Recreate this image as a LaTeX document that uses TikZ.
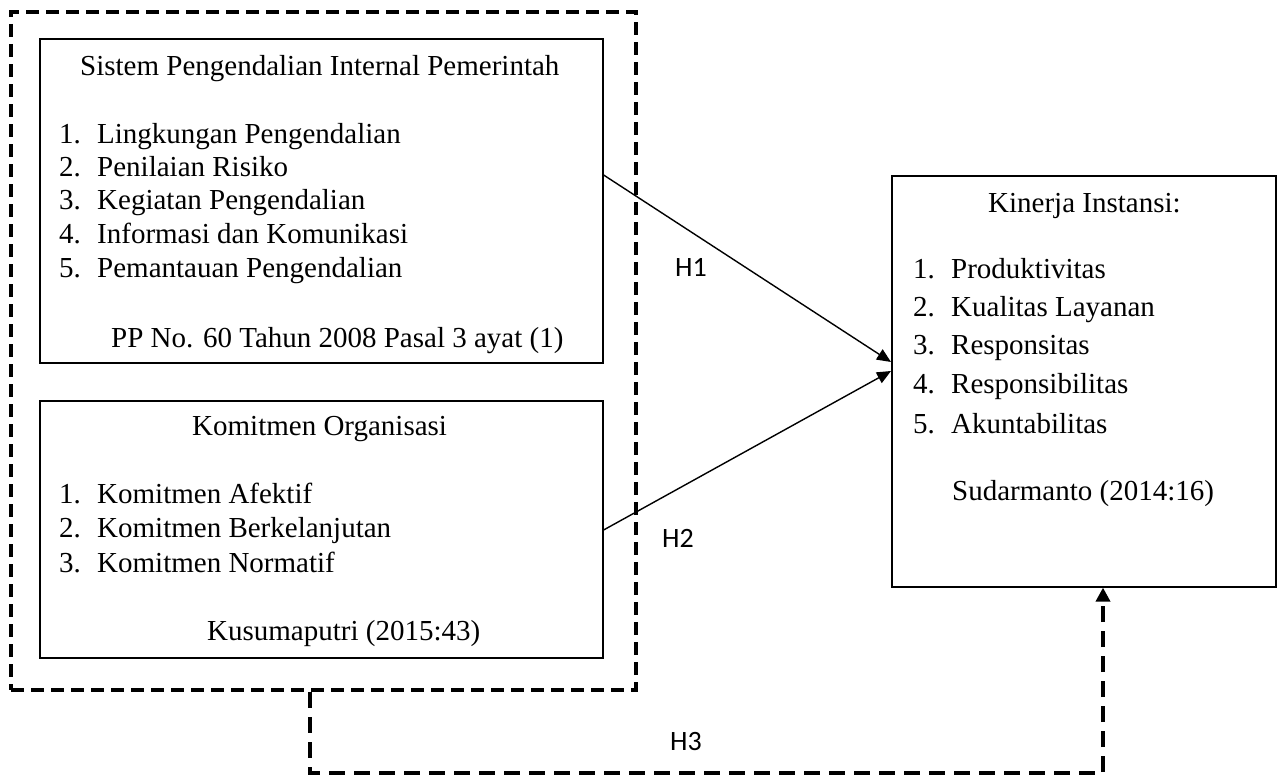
\documentclass[tikz,border=0pt]{standalone}
\usepackage{fontspec}
\setmainfont{Liberation Serif}
\newfontfamily\hfont{Carlito}
\usetikzlibrary{arrows.meta}
\begin{document}
\begin{tikzpicture}[x=1pt,y=-1pt,
 box/.style={draw, line width=1.6pt, inner sep=0pt, anchor=north west},
 txt/.style={anchor=base west, inner sep=0pt, font=\fontsize{29}{33}\selectfont},
 hl/.style={anchor=base west, inner sep=0pt, font=\hfont\fontsize{28}{32}\selectfont},
 outer/.style={draw, line width=4pt, dash pattern=on 13pt off 7pt, inner sep=0pt, anchor=north west},
 conn/.style={line width=1.4pt, -{Triangle[length=14pt,width=12pt]}},
 dconn/.style={line width=4pt, dash pattern=on 16pt off 9pt, -{Triangle[length=14pt,width=14pt]}}]
\useasboundingbox (0,0) rectangle (1277,776);
% boxes
\node[outer, minimum width=625pt, minimum height=678pt] (grp) at (9,10) {};
\node[box, minimum width=563pt, minimum height=324pt] (spip) at (39,38) {};
\node[box, minimum width=563pt, minimum height=257pt] (komit) at (39,400) {};
\node[box, minimum width=384pt, minimum height=411pt] (kin) at (891,175) {};
% texts box 1
\node[txt] (t1) at (80,75) {Sistem Pengendalian Internal Pemerintah};
\node[txt] (n11) at (59,143) {1.};
\node[txt] (i11) at (97,143) {Lingkungan Pengendalian};
\node[txt] (n12) at (59,176) {2.};
\node[txt] (i12) at (97,176) {Penilaian Risiko};
\node[txt] (n13) at (59,209) {3.};
\node[txt] (i13) at (97,209) {Kegiatan Pengendalian};
\node[txt] (n14) at (59,243) {4.};
\node[txt] (i14) at (97,243) {Informasi dan Komunikasi};
\node[txt] (n15) at (59,277) {5.};
\node[txt] (i15) at (97,277) {Pemantauan Pengendalian};
\node[txt] (s1) at (111,347) {PP No. 60 Tahun 2008 Pasal 3 ayat (1)};
% texts box 2
\node[txt] (t2) at (192,435) {Komitmen Organisasi};
\node[txt] (n21) at (59,503) {1.};
\node[txt] (i21) at (97,503) {Komitmen Afektif};
\node[txt] (n22) at (59,537) {2.};
\node[txt] (i22) at (97,537) {Komitmen Berkelanjutan};
\node[txt] (n23) at (59,572) {3.};
\node[txt] (i23) at (97,572) {Komitmen Normatif};
\node[txt] (s2) at (207,640) {Kusumaputri (2015:43)};
% texts box 3
\node[txt] (t3) at (988,212) {Kinerja Instansi:};
\node[txt] (n31) at (913,278) {1.};
\node[txt] (i31) at (951,278) {Produktivitas};
\node[txt] (n32) at (913,316) {2.};
\node[txt] (i32) at (951,316) {Kualitas Layanan};
\node[txt] (n33) at (913,354) {3.};
\node[txt] (i33) at (951,354) {Responsitas};
\node[txt] (n34) at (913,393) {4.};
\node[txt] (i34) at (951,393) {Responsibilitas};
\node[txt] (n35) at (913,433) {5.};
\node[txt] (i35) at (951,433) {Akuntabilitas};
\node[txt] (s3) at (952,500) {Sudarmanto (2014:16)};
% hypothesis labels
\node[hl] (h1) at (675,276) {H1};
\node[hl] (h2) at (662,547) {H2};
\node[hl] (h3) at (670,750) {H3};
% connectors
\coordinate (h1s) at (spip.east |- 0,175);
\coordinate (h1e) at (kin.west |- 0,362);
\coordinate (h2s) at (komit.east |- 0,530);
\coordinate (h2e) at (kin.west |- 0,371);
\coordinate (h3s) at (310,0 |- grp.south);
\coordinate (h3c) at (310,773);
\coordinate (h3e) at (1103,0 |- kin.south);
\draw[conn] (h1s) -- (h1e);
\draw[conn] (h2s) -- (h2e);
\draw[dconn] (h3s) -- (h3c) -| (h3e);
\end{tikzpicture}
\end{document}
